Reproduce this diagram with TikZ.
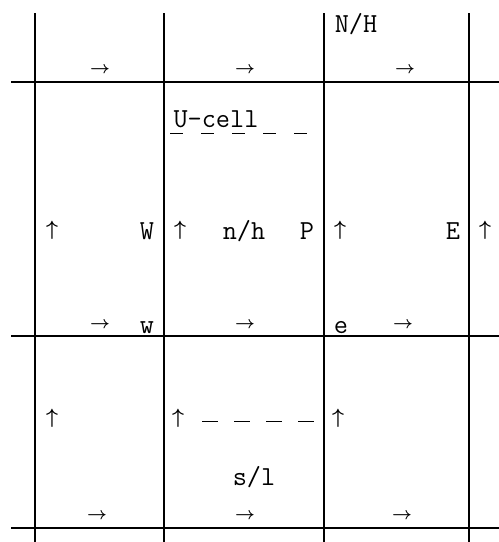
\documentclass[tikz,border=0pt]{standalone}
\begin{document}
\begin{tikzpicture}[x=1pt,y=-1pt,
  gridline/.style={line width=1.5pt, black},
  lbl/.style={font=\fontsize{27.5}{27.5}\selectfont\ttfamily, inner sep=0pt, anchor=base},
  rarr/.style={font=\fontsize{16}{16}\selectfont\boldmath, inner sep=0pt},
  uarr/.style={font=\fontsize{20}{20}\selectfont\boldmath, inner sep=0pt},
  dashline/.style={line width=0.9pt}
]
\useasboundingbox (0,0) rectangle (499,542);
% vertical grid lines
\foreach \x in {35,164,324,469}{
  \draw[gridline] (\x,13) -- (\x,542);
}
% horizontal grid lines
\foreach \y in {82,336,528}{
  \draw[gridline] (11,\y) -- (499,\y);
}
% top labels
\node[lbl] (NH) at (356,32) {N/H};
\node[rarr] (t1) at (100,70) {$\rightarrow$};
\node[rarr] (t2) at (245,70) {$\rightarrow$};
\node[rarr] (t3) at (405,70) {$\rightarrow$};
% U-cell
\node[lbl] (ucell) at (216,127) {U-cell};
\draw[dashline, dash pattern=on 13pt off 18pt] (170,133) -- (312,133);
% middle row
\node[uarr] (u1) at (52,230) {$\uparrow$};
\node[lbl] (W) at (147,239) {W};
\node[uarr] (u2) at (180,230) {$\uparrow$};
\node[lbl] (nh) at (244,239) {n/h};
\node[lbl] (P) at (307,239) {P};
\node[uarr] (u3) at (340,230) {$\uparrow$};
\node[lbl] (E) at (453,239) {E};
\node[uarr] (u4) at (485,230) {$\uparrow$};
% face row
\node[rarr] (m1) at (100,325) {$\rightarrow$};
\node[lbl] (w) at (147,333) {w};
\node[rarr] (m2) at (245,325) {$\rightarrow$};
\node[lbl] (e) at (341,333) {e};
\node[rarr] (m3) at (403,325) {$\rightarrow$};
% lower row
\node[uarr] (l1) at (52,418) {$\uparrow$};
\node[uarr] (l2) at (178,418) {$\uparrow$};
\draw[dashline, dash pattern=on 16pt off 16pt] (202,421) -- (316,421);
\node[uarr] (l3) at (338,418) {$\uparrow$};
\node[lbl] (sl) at (254,485) {s/l};
\node[rarr] (b1) at (97,516) {$\rightarrow$};
\node[rarr] (b2) at (245,516) {$\rightarrow$};
\node[rarr] (b3) at (402,516) {$\rightarrow$};
\end{tikzpicture}
\end{document}
